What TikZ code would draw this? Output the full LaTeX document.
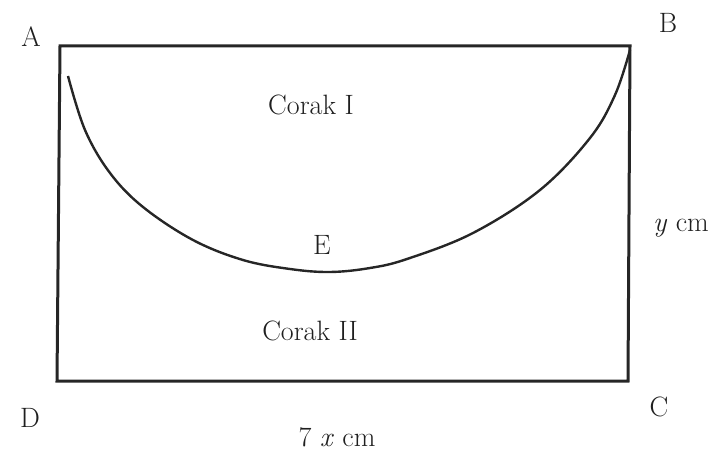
\documentclass[tikz,border=0pt]{standalone}
\begin{document}
\begin{tikzpicture}[x=1pt,y=-1pt,
  lbl/.style={inner sep=0pt,text=black!88,font=\fontsize{28}{30}\selectfont},
  edge/.style={line width=3pt,draw=black!85},
  curve/.style={line width=2.4pt,draw=black!85}]
\useasboundingbox (0,0) rectangle (715,452);
\coordinate (A) at (60,46);
\coordinate (B) at (630,46);
\coordinate (C) at (628,381);
\coordinate (D) at (57,381);
\draw[edge,line join=miter] (A) -- (B) -- (C) -- (D) -- cycle;
\draw[curve] plot[smooth,tension=0.6] coordinates {(68,76) (85,130) (110,173) (143,207) (193,240) (243,260) (290,269) (330,272) (370,268) (407,259) (473,233) (540,190) (590,138) (615,95) (630,50)};
\node[lbl] (lA) at (31,37) {A};
\node[lbl] (lB) at (668,23) {B};
\node[lbl] (lC) at (659,407) {C};
\node[lbl] (lD) at (30,418) {D};
\node[lbl] (lE) at (322,245) {E};
\node[lbl] (c1) at (311,105) {Corak I};
\node[lbl] (c2) at (310,331) {Corak II};
\node[lbl] (ly) at (681,228) {\textit{y} cm};
\node[lbl] (lx) at (337,437) {7 \textit{x} cm};
\end{tikzpicture}
\end{document}
